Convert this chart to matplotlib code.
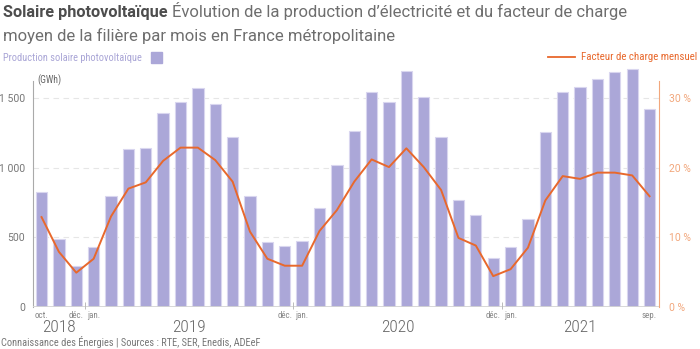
import matplotlib
matplotlib.use("Agg")
import matplotlib.pyplot as plt
import matplotlib.transforms as mtransforms
from matplotlib import font_manager
from matplotlib.patches import Rectangle
from matplotlib.lines import Line2D
import numpy as np
import pandas as pd

# --------------------------------------------------------------------------
# Données : production PV mensuelle (GWh) et facteur de charge (%)
# oct. 2018 -> sep. 2021
# --------------------------------------------------------------------------
production_gwh = [823, 490, 290, 427, 797, 1133, 1140, 1394, 1476, 1577, 1459, 1224,
                  797, 463, 434, 470, 710, 1018, 1265, 1548, 1474, 1697, 1512, 1224,
                  766, 660, 353, 432, 631, 1258, 1546, 1579, 1637, 1687, 1711, 1421]
facteur_charge = [12.9, 7.9, 4.9, 6.9, 13.0, 17.0, 17.9, 21.0, 22.9, 22.9, 21.1, 18.0,
                  10.8, 6.9, 5.9, 5.9, 10.9, 13.9, 18.0, 21.2, 20.1, 22.8, 20.1, 16.8,
                  9.9, 8.8, 4.4, 5.4, 8.5, 15.3, 18.8, 18.4, 19.3, 19.3, 18.9, 15.9]
mois = pd.period_range("2018-10", "2021-09", freq="M")

mois_ticks = [0, 2, 3, 14, 15, 26, 27, 35]
mois_labels = ["oct.", "déc.", "jan.", "déc.", "jan.", "déc.", "jan.", "sep."]
gauche_ticks = [0, 500, 1000, 1500]
gauche_labels = ["0", "500", "1 000", "1 500"]
droite_ticks = [0, 10, 20, 30]
droite_labels = ["0 %", "10 %", "20 %", "30 %"]

VIOLET = "#aba7d8"
VIOLET_BORD = "#d9d6ef"
ORANGE = "#e8682c"
ORANGE_CLAIR = "#f2a77c"
GRIS = "#777777"

installed = {f.name for f in font_manager.fontManager.ttflist}
NARROW = next((f for f in ("Roboto Condensed", "Liberation Sans Narrow")
               if f in installed), "Roboto")
plt.rcParams["font.family"] = ["Roboto", "DejaVu Sans"]

W, H = 700, 349
fig = plt.figure(figsize=(W / 100, H / 100), dpi=100)


def fx(px):
    return px / W


def fy(py):
    return 1 - py / H


# zone de tracé (en pixels : gauche 32.5, droite 659.3, base 306.7)
y_top = 1750
px_per_gwh = 0.13893
ax = fig.add_axes([fx(32.5), fy(306.7), (659.3 - 32.5) / W, y_top * px_per_gwh / H])
x = np.arange(len(production_gwh))

ax.bar(x, production_gwh, width=0.65, color=VIOLET, edgecolor=VIOLET_BORD,
       linewidth=0.8, zorder=2)
ax.set_xlim(-0.52, len(x) - 1 + 0.56)
ax.set_ylim(0, y_top)

ax.set_yticks(gauche_ticks)
ax.set_yticklabels(gauche_labels, fontsize=7.5, color=GRIS)
ax.tick_params(axis="y", length=0, pad=5.4)
ax.yaxis.grid(True, color="#e6e6e6", linestyle=(0, (5, 4)), linewidth=0.8, zorder=0)
ax.set_axisbelow(True)

ax.set_xticks(mois_ticks)
ax.set_xticklabels(mois_labels, family=NARROW, fontsize=6.5, color="#888888")
ax.tick_params(axis="x", length=0, pad=3)

for s in ("top", "right", "bottom"):
    ax.spines[s].set_visible(False)
ax.spines["left"].set_color("#aaaaaa")
ax.spines["left"].set_linewidth(0.8)
ax.spines["left"].set_bounds(0, 1627)
ax.axhline(0, color="#d4d4d4", linewidth=2, zorder=3)

# séparateurs d'années et libellés des années
annees = mois.year
debuts = [i for i in range(1, len(mois)) if annees[i] != annees[i - 1]]
for i in debuts:
    ax.vlines(i - 0.5, -15, 32, color="#bbbbbb", linewidth=0.7, zorder=4, clip_on=False)

trans = mtransforms.blended_transform_factory(ax.transData, fig.transFigure)
for an in sorted(set(annees)):
    idx = [i for i in range(len(mois)) if annees[i] == an]
    ax.text(np.mean(idx), fy(328), str(an), transform=trans, ha="center", va="center",
            family=NARROW, fontweight="light", fontsize=12.5, color="#666666")

# axe secondaire : facteur de charge
ax2 = ax.twinx()
ax2.plot(x, facteur_charge, color=ORANGE, linewidth=1.4, zorder=5)
ax2.set_ylim(0, y_top / 50)
ax2.set_yticks(droite_ticks)
ax2.set_yticklabels(droite_labels, fontsize=7.5, color=ORANGE_CLAIR)
ax2.tick_params(axis="y", length=0, pad=6.8)
for s in ("top", "left", "bottom"):
    ax2.spines[s].set_visible(False)
ax2.spines["right"].set_color(ORANGE_CLAIR)
ax2.spines["right"].set_linewidth(0.8)
ax2.spines["right"].set_bounds(0, 1627 / 50)

# titre
r = fig.canvas.get_renderer()
t1 = fig.text(fx(3), fy(17.5), "Solaire photovoltaïque", fontsize=11.7,
              fontweight="bold", color="#4d4d4d", va="baseline")
bb = t1.get_window_extent(r)
fig.text(fx(bb.x1 + 4), fy(17.5),
         "Évolution de la production d’électricité et du facteur de charge",
         fontsize=12, color="#6e6e6e", va="baseline")
fig.text(fx(3), fy(40.7), "moyen de la filière par mois en France métropolitaine",
         fontsize=12, color="#6e6e6e", va="baseline")

# légendes
fig.text(fx(3), fy(58), "Production solaire photovoltaïque", family=NARROW,
         fontsize=7.5, color="#a9a5d6", va="center")
fig.patches.append(Rectangle((fx(151), fy(63)), 11 / W, 11 / H, color=VIOLET,
                             transform=fig.transFigure, figure=fig))
fig.lines.append(Line2D([fx(548), fx(575)], [fy(57), fy(57)], color=ORANGE,
                        linewidth=1.3, transform=fig.transFigure, figure=fig))
fig.text(fx(697), fy(57), "Facteur de charge mensuel", family=NARROW, fontsize=7.8,
         color=ORANGE, ha="right", va="center")

fig.text(fx(37), fy(80), "(GWh)", family=NARROW, fontsize=7, color="#666666",
         va="center")
fig.text(fx(1), fy(342), "Connaissance des Énergies | Sources : RTE, SER, Enedis, ADEeF",
         family=NARROW, fontsize=7.5, color=GRIS, va="center")

fig.savefig("out.png", dpi=100)
